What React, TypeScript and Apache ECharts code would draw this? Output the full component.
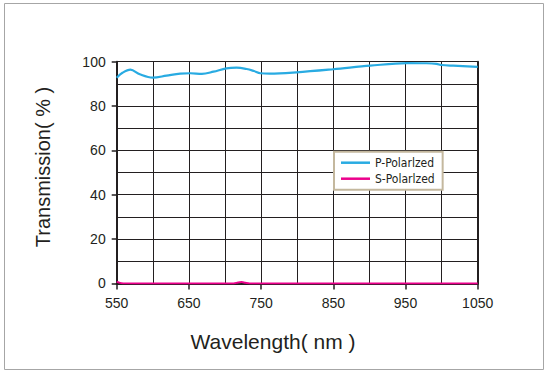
import React, { useEffect, useRef } from "react";
import * as echarts from "echarts";

const pWavelength = [550, 558, 569, 582, 600, 619, 638, 652, 668, 684, 702, 716, 730, 740, 749, 762, 799, 850, 901, 952, 979, 993, 1000, 1016, 1050];
const pValues = [92.8, 95.0, 96.4, 94.3, 92.8, 93.7, 94.6, 94.8, 94.5, 95.5, 97.0, 97.3, 96.7, 95.8, 94.8, 94.6, 95.2, 96.6, 98.2, 99.4, 99.3, 99.0, 98.5, 98.2, 97.7];
const sWavelength = [550, 553, 558, 600, 700, 712, 718, 723, 728, 734, 800, 900, 1000, 1050];
const sValues = [0.8, 0.4, 0.05, 0, 0, 0, 0.4, 0.6, 0.3, 0, 0, 0, 0, 0];
const seriesNames = ["P-Polarlzed", "S-Polarlzed"];
const xTitle = "Wavelength( nm )";
const yTitle = "Transmission( % )";

const TEXT = "#231f20";
const FONT = "'Liberation Sans', sans-serif";
const NARROW = "'DejaVu Sans Condensed', 'Liberation Sans', sans-serif";

export default function App() {
  const ref = useRef<HTMLDivElement>(null);
  useEffect(() => {
    if (!ref.current) return;
    const chart = echarts.init(ref.current, null, { renderer: "svg" });
    const pData = pWavelength.map((w, i) => [w, pValues[i]]);
    const sData = sWavelength.map((w, i) => [w, sValues[i]]);
    chart.setOption({
      animation: false,
      backgroundColor: "#fff",
      grid: { left: 116.7, top: 61.7, width: 361, height: 221.7, show: false },
      legend: {
        orient: "vertical",
        left: 334,
        top: 151.7,
        backgroundColor: "#fff",
        borderColor: "#c4b89e",
        borderWidth: 2,
        borderRadius: 0,
        padding: [5, 8, 5, 7],
        itemGap: 4,
        itemWidth: 29,
        itemHeight: 2.5,
        icon: "rect",
        textStyle: { color: TEXT, fontFamily: NARROW, fontSize: 12 },
        data: seriesNames,
      },
      xAxis: {
        type: "value",
        min: 550,
        max: 1050,
        interval: 100,
        axisLine: { show: true, onZero: false, lineStyle: { color: TEXT, width: 2 } },
        axisTick: { show: true, length: 6, lineStyle: { color: TEXT, width: 1.5 } },
        axisLabel: { color: TEXT, fontFamily: FONT, fontSize: 14, margin: 13, formatter: (v: number) => String(v) },
        splitLine: { show: true, lineStyle: { color: TEXT, width: 1 } },
        minorTick: { show: false, splitNumber: 2 },
        minorSplitLine: { show: true, lineStyle: { color: TEXT, width: 1 } },
      },
      yAxis: [
        {
          type: "value",
          min: 0,
          max: 100,
          interval: 20,
          axisLine: { show: true, lineStyle: { color: TEXT, width: 2 } },
          axisTick: { show: true, length: 5, lineStyle: { color: TEXT, width: 1.5 } },
          axisLabel: { color: TEXT, fontFamily: FONT, fontSize: 14, margin: 11 },
          splitLine: { show: true, lineStyle: { color: TEXT, width: 1 } },
          minorTick: { show: false, splitNumber: 2 },
          minorSplitLine: { show: true, lineStyle: { color: TEXT, width: 1 } },
        },
        {
          type: "value",
          min: 0,
          max: 100,
          interval: 20,
          position: "right",
          axisLine: { show: true, lineStyle: { color: TEXT, width: 2 } },
          axisTick: { show: false },
          axisLabel: { show: false },
          splitLine: { show: false },
        },
      ],
      graphic: [
        {
          type: "rect",
          shape: { x: 4.5, y: 3.5, width: 539, height: 366 },
          style: { fill: "none", stroke: "#a6a6a6", lineWidth: 1 },
          silent: true,
        },
        {
          type: "text",
          x: 273,
          y: 341,
          style: { text: xTitle, fill: TEXT, font: `21px ${FONT}`, align: "center", verticalAlign: "middle" },
        },
        {
          type: "text",
          x: 43,
          y: 167,
          rotation: Math.PI / 2,
          style: { text: yTitle, fill: TEXT, font: `20px ${FONT}`, align: "center", verticalAlign: "middle" },
        },
      ],
      series: [
        {
          name: seriesNames[0],
          type: "line",
          data: pData,
          smooth: 0.35,
          symbol: "none",
          lineStyle: { color: "#29abe2", width: 2.2 },
          itemStyle: { color: "#29abe2" },
          z: 5,
        },
        {
          name: seriesNames[1],
          type: "line",
          data: sData,
          smooth: 0.3,
          symbol: "none",
          lineStyle: { color: "#ec008c", width: 2 },
          itemStyle: { color: "#ec008c" },
          z: 4,
        },
      ],
    });
    return () => chart.dispose();
  }, []);
  return (
    <div
      ref={ref}
      style={{ position: "fixed", left: 0, top: 0, width: 550, height: 375, background: "#fff" }}
    />
  );
}
